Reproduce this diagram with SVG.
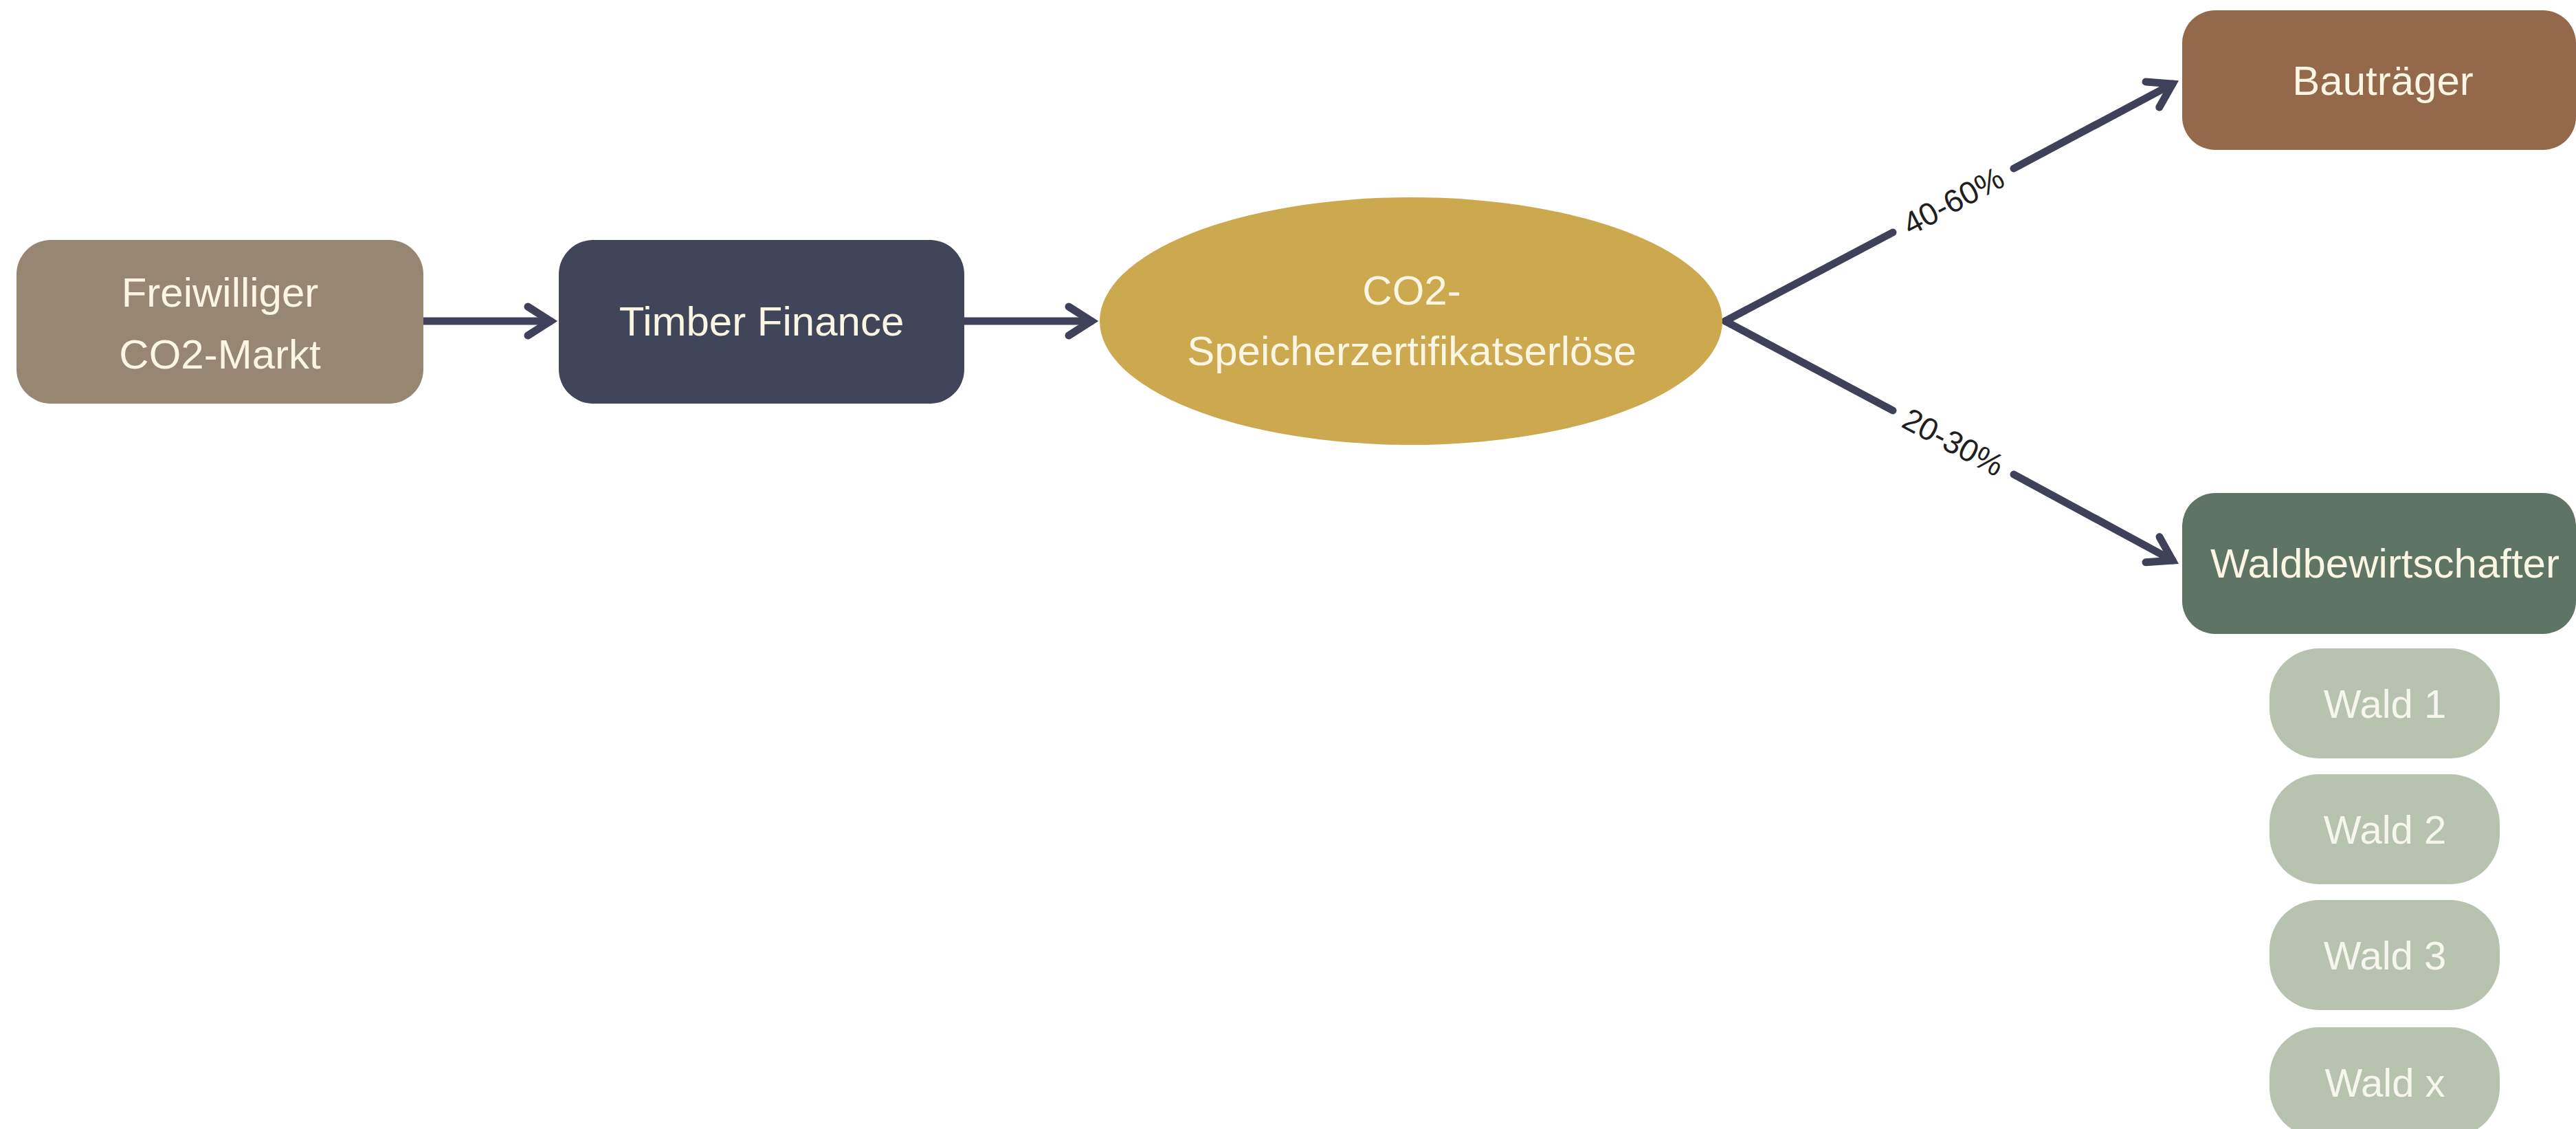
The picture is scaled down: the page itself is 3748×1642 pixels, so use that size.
<svg xmlns="http://www.w3.org/2000/svg" width="3748" height="1642" viewBox="0 0 3748 1642">
<style>
.node-text{font-family:"Liberation Sans",Arial,sans-serif;font-size:60px;fill:#fbf6e3;text-anchor:middle}
.wald-text{font-family:"Liberation Sans",Arial,sans-serif;font-size:58px;fill:#f6f6ef;text-anchor:middle}
.edge{fill:none;stroke:#3e4159;stroke-width:11;stroke-linecap:round}
.edge-label{font-family:"Liberation Sans",Arial,sans-serif;font-size:46px;fill:#1f1f1f;text-anchor:middle;dominant-baseline:central}
.wald{fill:#b8c3af}
</style>
<defs>
<marker id="arrow" markerUnits="userSpaceOnUse" markerWidth="80" markerHeight="80" refX="0" refY="0" orient="auto" overflow="visible">
<path d="M-33,-21 L0,0 L-33,21" fill="none" stroke="#3e4159" stroke-width="11" stroke-linecap="round" stroke-linejoin="miter"/>
</marker>
</defs>
<rect width="3748" height="1642" fill="#ffffff"/>
<g id="connectors">
<path class="edge" d="M617,467 L801,467" marker-end="url(#arrow)"/>
<path class="edge" d="M1403,467 L1588,467" marker-end="url(#arrow)"/>
<path class="edge" d="M2510,467 L2754,338 M2930,245 L3161,122" marker-end="url(#arrow)"/>
<path class="edge" d="M2510,467 L2754,597 M2930,690 L3161,815" marker-end="url(#arrow)"/>
<text class="edge-label" transform="translate(2842,292) rotate(-27.9)">40-60%</text>
<text class="edge-label" transform="translate(2842,643) rotate(27.9)">20-30%</text>
</g>
<g id="node-freiwilliger">
<rect x="24" y="349" width="592" height="238" rx="50" fill="#978671"/>
<text class="node-text" x="320" y="446">Freiwilliger</text>
<text class="node-text" x="320" y="536">CO2-Markt</text>
</g>
<g id="node-timber">
<rect x="813" y="349" width="590" height="238" rx="50" fill="#414559"/>
<text class="node-text" x="1108" y="488">Timber Finance</text>
</g>
<g id="node-erloese">
<ellipse cx="2053" cy="467" rx="453" ry="180" fill="#cca84f"/>
<text class="node-text" x="2054" y="443">CO2-</text>
<text class="node-text" x="2054" y="531">Speicherzertifikatserlöse</text>
</g>
<g id="node-bautraeger">
<rect x="3175" y="15" width="573" height="203" rx="48" fill="#94684b"/>
<text class="node-text" x="3467" y="138">Bauträger</text>
</g>
<g id="node-waldbewirtschafter">
<rect x="3175" y="717" width="573" height="205" rx="48" fill="#5e7566"/>
<text class="node-text" x="3470" y="840">Waldbewirtschafter</text>
</g>
<g id="node-wald1">
<rect class="wald" x="3302" y="943" width="335" height="160" rx="72"/>
<text class="wald-text" x="3470" y="1044">Wald 1</text>
</g>
<g id="node-wald2">
<rect class="wald" x="3302" y="1126" width="335" height="160" rx="72"/>
<text class="wald-text" x="3470" y="1227">Wald 2</text>
</g>
<g id="node-wald3">
<rect class="wald" x="3302" y="1309" width="335" height="160" rx="72"/>
<text class="wald-text" x="3470" y="1410">Wald 3</text>
</g>
<g id="node-waldx">
<rect class="wald" x="3302" y="1494" width="335" height="160" rx="72"/>
<text class="wald-text" x="3470" y="1595">Wald x</text>
</g>
</svg>
